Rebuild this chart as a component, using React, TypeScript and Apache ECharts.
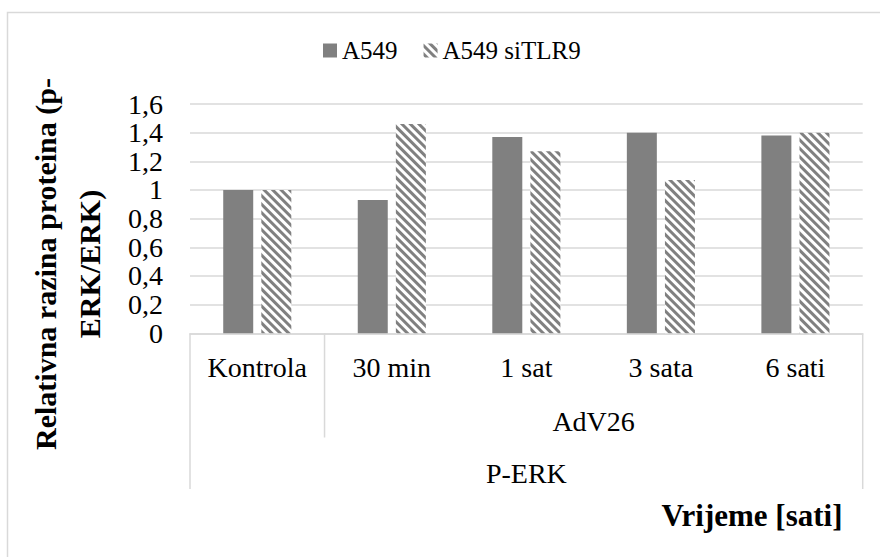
import React, { useEffect, useRef } from "react";
import * as echarts from "echarts";

const categories = ["Kontrola", "30 min", "1 sat", "3 sata", "6 sati"];
const seriesNames = ["A549", "A549 siTLR9"];
const a549 = [1.0, 0.93, 1.37, 1.4, 1.38];
const a549siTLR9 = [1.0, 1.46, 1.27, 1.07, 1.4];
const groupLabel = "AdV26";
const outerLabel = "P-ERK";
const yTitle = "Relativna razina proteina (p-\nERK/ERK)";
const xTitle = "Vrijeme [sati]";

const FONT = "Liberation Serif, Times New Roman, serif";
const GRID_LEFT = 190;
const GRID_RIGHT_X = 862.7;
const GRID_TOP = 104;
const GRID_BOTTOM_Y = 333.3;
const LINE = "#d9d9d9";

export default function App() {
  const ref = useRef<HTMLDivElement>(null);
  useEffect(() => {
    if (!ref.current) return;
    const chart = echarts.init(ref.current, null, { renderer: "svg" });
    const catW = (GRID_RIGHT_X - GRID_LEFT) / categories.length;
    chart.setOption({
      animation: false,
      backgroundColor: "#ffffff",
      textStyle: { fontFamily: FONT },
      grid: {
        left: GRID_LEFT,
        right: 880 - GRID_RIGHT_X,
        top: GRID_TOP,
        bottom: 557 - GRID_BOTTOM_Y,
        containLabel: false,
      },
      legend: {
        data: seriesNames,
        left: 318,
        top: 33,
        itemWidth: 14,
        itemHeight: 14,
        itemGap: 26,
        icon: "rect",
        textStyle: { fontFamily: FONT, fontSize: 25, color: "#000" },
      },
      xAxis: {
        type: "category",
        data: categories,
        axisLine: { show: true, lineStyle: { color: LINE, width: 1.5 } },
        axisTick: { show: false },
        axisLabel: {
          fontFamily: FONT,
          fontSize: 28,
          color: "#000",
          margin: 20,
          interval: 0,
        },
      },
      yAxis: {
        type: "value",
        min: 0,
        max: 1.6,
        interval: 0.2,
        axisLine: { show: false },
        axisTick: { show: false },
        splitLine: { lineStyle: { color: LINE, width: 1.5 } },
        axisLabel: {
          fontFamily: FONT,
          fontSize: 28,
          color: "#000",
          margin: 27,
          formatter: (v: number) => String(Number(v.toFixed(1))).replace(".", ","),
        },
      },
      series: [
        {
          name: seriesNames[0],
          type: "bar",
          data: a549,
          barWidth: 30,
          barGap: "27%",
          itemStyle: { color: "#808080" },
        },
        {
          name: seriesNames[1],
          type: "bar",
          data: a549siTLR9,
          barWidth: 30,
          itemStyle: {
            color: "#ffffff",
            decal: {
              symbol: "rect",
              symbolSize: 1,
              color: "#808080",
              backgroundColor: "#ffffff",
              dashArrayX: [1, 0],
              dashArrayY: [2.5, 2.5],
              rotation: Math.PI / 4,
            },
          },
        },
      ],
      graphic: [
        {
          type: "rect",
          shape: { x: 7.5, y: 12.5, width: 1000, height: 1000 },
          style: { fill: "none", stroke: LINE, lineWidth: 1.5 },
          silent: true,
        },
        {
          type: "line",
          shape: { x1: GRID_LEFT, y1: GRID_BOTTOM_Y, x2: GRID_LEFT, y2: 489 },
          style: { stroke: LINE, lineWidth: 1.5 },
        },
        {
          type: "line",
          shape: { x1: GRID_LEFT + catW, y1: GRID_BOTTOM_Y, x2: GRID_LEFT + catW, y2: 437.5 },
          style: { stroke: LINE, lineWidth: 1.5 },
        },
        {
          type: "line",
          shape: { x1: GRID_RIGHT_X, y1: GRID_BOTTOM_Y, x2: GRID_RIGHT_X, y2: 489 },
          style: { stroke: LINE, lineWidth: 1.5 },
        },
        {
          type: "text",
          x: (GRID_LEFT + catW + GRID_RIGHT_X) / 2,
          y: 421.5,
          style: {
            text: groupLabel,
            font: `28px ${FONT}`,
            fill: "#000",
            align: "center",
            verticalAlign: "middle",
          },
        },
        {
          type: "text",
          x: (GRID_LEFT + GRID_RIGHT_X) / 2,
          y: 473,
          style: {
            text: outerLabel,
            font: `28px ${FONT}`,
            fill: "#000",
            align: "center",
            verticalAlign: "middle",
          },
        },
        {
          type: "text",
          x: 752,
          y: 515,
          style: {
            text: xTitle,
            font: `bold 31px ${FONT}`,
            fill: "#000",
            align: "center",
            verticalAlign: "middle",
          },
        },
        {
          type: "text",
          x: 67,
          y: 264,
          rotation: Math.PI / 2,
          style: {
            text: yTitle,
            font: `bold 30px ${FONT}`,
            lineHeight: 44,
            fill: "#000",
            align: "center",
            verticalAlign: "middle",
          },
        },
      ],
    });
    return () => chart.dispose();
  }, []);
  return (
    <div
      ref={ref}
      style={{ position: "fixed", left: 0, top: 0, width: 880, height: 557 }}
    />
  );
}
